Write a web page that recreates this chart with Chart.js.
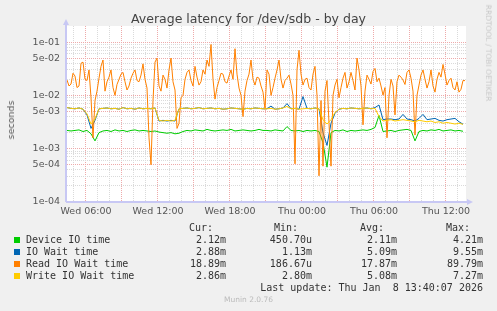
<!DOCTYPE html>
<html>
<head>
<meta charset="utf-8">
<script src="https://cdn.jsdelivr.net/npm/chart.js@4.4.1/dist/chart.umd.min.js"></script>
<style>
  body { margin: 0; background: #f0f0f0; }
  #wrap { position: relative; width: 497px; height: 311px; background: #f0f0f0; overflow: hidden; font-family: "DejaVu Sans", sans-serif; }
  #wrap canvas { position: absolute; left: 0; top: 0; }
  .t { position: absolute; white-space: pre; line-height: 12px; }
  .mono { font-family: "DejaVu Sans Mono", monospace; font-size: 10px; color: #333; }
</style>
</head>
<body>
<div id="wrap">
  <canvas id="chart" width="497" height="311"></canvas>
  <div class="t" style="left:0;width:497px;top:11px;text-align:center;font-size:12.5px;line-height:16px;color:#444">Average latency for /dev/sdb - by day</div>
  <div class="t" style="left:11px;top:120px;transform:translate(-50%,-50%) rotate(-90deg);font-size:9.5px;color:#555">seconds</div>
  <div class="t" style="left:488px;top:53px;transform:translate(-50%,-50%) rotate(90deg);font-size:7.5px;color:#c8c8c8">RRDTOOL / TOBI OETIKER</div>
  <div id="legend"></div>
</div>
<script>
// time axis: hours since Wed 00:00, one sample every 20 min (10 min for the read series)
const startHour = 4.4167;
const endHour = 37.6667;
const coarseStep = 1 / 3;
const fineStep = 1 / 6;

// values in milliseconds
const deviceMs = [
  2.2, 2.15, 2.2, 2.25, 2.1, 2.2, 1.9, 1.4, 2.0, 2.15,
  2.2, 2.1, 2.25, 2.15, 2.2, 2.1, 2.2, 2.25, 2.15, 2.2,
  2.15, 2.1, 2.15, 2.05, 2.0, 1.95, 2.0, 1.9, 1.95, 2.1,
  2.2, 2.15, 2.25, 2.2, 2.15, 2.3, 2.2, 2.15, 2.2, 2.25,
  2.2, 2.3, 2.15, 2.2, 2.25, 2.2, 2.15, 2.2, 2.3, 2.2,
  2.2, 2.15, 2.25, 2.2, 2.15, 2.6, 2.2, 2.15, 2.2, 2.1,
  2.2, 2.15, 2.2, 2.1, 1.3, 0.45, 2.0, 2.2, 2.15, 2.25,
  2.1, 2.2, 2.15, 2.2, 2.25, 2.2, 2.3, 2.5, 4.2, 2.1,
  2.15, 2.2, 2.1, 2.2, 2.25, 2.3, 2.2, 1.4, 2.1, 2.2,
  2.15, 2.25, 2.2, 2.3, 2.15, 2.2, 2.25, 2.15, 2.2, 2.12
];
const ioWaitMs = [
  5.9, 5.7, 5.6, 5.8, 5.5, 4.3, 2.4, 3.4, 5.6, 5.7,
  5.8, 5.6, 5.7, 5.5, 5.9, 5.6, 5.7, 5.5, 5.8, 5.6,
  5.7, 5.6, 5.8, 3.3, 3.4, 3.3, 3.4, 3.3, 5.6, 5.7,
  5.8, 5.6, 5.7, 5.9, 5.6, 5.7, 5.8, 5.6, 5.7, 5.5,
  5.6, 5.8, 5.7, 5.6, 5.5, 5.7, 5.6, 5.8, 5.7, 5.6,
  5.6, 6.3, 5.5, 5.6, 5.8, 7.0, 5.6, 5.7, 5.5, 9.5,
  5.7, 5.6, 5.8, 5.6, 2.0, 1.15, 3.0, 4.6, 5.5, 5.7,
  5.6, 5.8, 5.7, 5.6, 5.7, 5.8, 5.6, 5.9, 6.6, 3.5,
  3.6, 3.6, 3.5, 3.6, 4.4, 3.6, 3.5, 3.3, 3.7, 4.4,
  3.5, 3.6, 3.7, 3.4, 3.3, 3.5, 3.6, 3.7, 3.2, 2.88
];
const readWaitMs = [
  19.4, 15, 16.3, 26, 23, 14, 15, 40, 42, 20,
  19, 30, 9, 1.6, 8, 12, 21, 35, 46, 12,
  18, 22, 30, 14, 10, 16, 20, 25, 27, 18,
  12.6, 15, 21, 26, 30, 19, 18, 24, 39, 20,
  13.7, 1.6, 0.5, 8, 42, 50, 15, 12, 24, 20,
  13.7, 30, 50, 18, 12.6, 2.4, 3, 9, 10, 20,
  27, 30, 19, 15, 35, 22, 15.6, 18, 30, 25,
  46, 35, 90, 20, 8.5, 14, 19, 26, 25, 18,
  17, 23, 30, 20, 75, 25, 13.7, 10, 4, 12,
  19, 25, 46, 20, 15.6, 22, 21, 15, 11.5, 5.5,
  30, 25, 10, 14, 21, 30, 46, 20, 13.7, 19,
  21, 24, 16.3, 10, 0.52, 30, 70, 25, 15.6, 20,
  21, 14, 12.6, 25, 35, 10, 0.31, 8, 0.47, 12,
  19, 3, 0.47, 10, 15.6, 20, 9, 14, 21, 27,
  13.7, 18, 27, 19, 12.6, 50, 30, 15, 2.8, 12,
  24, 20, 16.3, 28, 32, 18, 21, 15, 10.1, 14,
  1.6, 10, 20, 15, 4.3, 18, 24, 22, 19.4, 16,
  27, 30, 21, 12, 1.8, 10, 15.6, 24, 30, 20,
  13.7, 18, 30, 15, 11.5, 20, 27, 22, 38, 25,
  15.6, 19, 21, 14, 12.6, 18, 11.5, 13, 19, 18.9
];
const writeWaitMs = [
  5.9, 5.7, 5.6, 5.8, 5.5, 4.5, 2.9, 3.6, 5.6, 5.7,
  5.8, 5.6, 5.7, 5.5, 5.9, 5.6, 5.7, 5.5, 5.8, 5.6,
  5.7, 5.6, 5.8, 3.4, 3.3, 3.4, 3.3, 3.4, 5.6, 5.7,
  5.8, 5.6, 5.7, 5.9, 5.6, 5.7, 5.8, 5.6, 5.7, 5.5,
  5.6, 5.8, 5.7, 5.6, 5.5, 5.7, 5.6, 5.8, 5.7, 5.6,
  5.6, 5.7, 5.5, 5.6, 5.8, 6.2, 5.6, 5.7, 5.5, 5.6,
  5.7, 5.6, 5.8, 5.6, 3.5, 2.9, 3.5, 4.8, 5.5, 5.7,
  5.6, 5.8, 5.7, 5.6, 5.7, 5.8, 5.6, 5.7, 4.0, 3.3,
  3.4, 3.5, 3.3, 3.4, 3.5, 3.4, 3.3, 3.2, 3.4, 3.3,
  3.2, 3.3, 3.1, 3.2, 3.0, 3.1, 3.0, 2.9, 3.0, 2.86
];

const seriesNames = ['Device IO time', 'IO Wait time', 'Read IO Wait time', 'Write IO Wait time'];
const seriesColors = ['#00cc00', '#0066b3', '#ff8000', '#ffcc00'];
const curVals = ['2.12m', '2.88m', '18.89m', '2.86m'];
const minVals = ['450.70u', '1.13m', '186.67u', '2.80m'];
const avgVals = ['2.11m', '5.09m', '17.87m', '5.08m'];
const maxVals = ['4.21m', '9.55m', '89.79m', '7.27m'];
const lastUpdate = 'Last update: Thu Jan  8 13:40:07 2026';

function toPoints(ms, step) {
  return ms.map((v, i) => ({ x: startHour + i * step, y: v / 1000 }));
}

function mantissa(v) {
  const e = Math.floor(Math.log10(v) + 1e-9);
  return { m: Math.round(v / Math.pow(10, e)), e: e };
}

// white plot area
const plotBg = {
  id: 'plotBg',
  beforeDraw(chart) {
    const { ctx, chartArea: a } = chart;
    ctx.save();
    ctx.fillStyle = '#ffffff';
    ctx.fillRect(a.left, a.top, a.right - a.left, a.bottom - a.top);
    ctx.restore();
  }
};

// rrdtool style axes with little arrows
const axisArrows = {
  id: 'axisArrows',
  afterDraw(chart) {
    const { ctx, chartArea: a } = chart;
    ctx.save();
    ctx.strokeStyle = '#c8c8f4';
    ctx.fillStyle = '#c8c8f4';
    ctx.lineWidth = 2;
    ctx.beginPath();
    ctx.moveTo(a.left - 1, a.bottom);
    ctx.lineTo(a.right + 2, a.bottom);
    ctx.moveTo(a.left - 1, a.bottom);
    ctx.lineTo(a.left - 1, a.top - 2);
    ctx.stroke();
    ctx.beginPath();
    ctx.moveTo(a.right + 7, a.bottom);
    ctx.lineTo(a.right + 1, a.bottom - 3);
    ctx.lineTo(a.right + 1, a.bottom + 3);
    ctx.closePath();
    ctx.fill();
    ctx.beginPath();
    ctx.moveTo(a.left - 1, a.top - 7);
    ctx.lineTo(a.left - 4, a.top - 1);
    ctx.lineTo(a.left + 2, a.top - 1);
    ctx.closePath();
    ctx.fill();
    ctx.restore();
  }
};

const tickFont = { family: 'DejaVu Sans', size: 9.5 };
const minorGrid = '#dadada';
const majorGrid = '#eeaaaa';

new Chart(document.getElementById('chart'), {
  type: 'line',
  data: {
    datasets: [
      { label: seriesNames[0], data: toPoints(deviceMs, coarseStep), borderColor: seriesColors[0], order: 4 },
      { label: seriesNames[1], data: toPoints(ioWaitMs, coarseStep), borderColor: seriesColors[1], order: 3 },
      { label: seriesNames[2], data: toPoints(readWaitMs, fineStep), borderColor: seriesColors[2], order: 2 },
      { label: seriesNames[3], data: toPoints(writeWaitMs, coarseStep), borderColor: seriesColors[3], order: 1 }
    ]
  },
  options: {
    responsive: false,
    animation: false,
    events: [],
    elements: {
      line: { borderWidth: 1, tension: 0 },
      point: { radius: 0 }
    },
    layout: { padding: { left: 0, top: 26, right: 31, bottom: 89 } },
    plugins: { legend: { display: false }, tooltip: { enabled: false } },
    scales: {
      x: {
        type: 'linear',
        min: startHour,
        max: endHour,
        afterFit(scale) { scale.height = 20; },
        afterBuildTicks(scale) {
          const t = [];
          for (let h = 5; h <= 37; h++) t.push({ value: h });
          scale.ticks = t;
        },
        grid: {
          drawTicks: false,
          color: c => (c.tick && c.tick.value % 3 === 0) ? majorGrid : minorGrid
        },
        border: { display: false, dash: [1, 1] },
        ticks: {
          autoSkip: false,
          maxRotation: 0,
          padding: 4,
          color: '#555',
          font: tickFont,
          callback: v => {
            if (v % 6 !== 0) return '';
            const day = v < 24 ? 'Wed' : 'Thu';
            return day + ' ' + String(v % 24).padStart(2, '0') + ':00';
          }
        }
      },
      y: {
        type: 'logarithmic',
        min: 1e-4,
        max: 0.2,
        afterFit(scale) { scale.width = 67; },
        afterBuildTicks(scale) {
          const t = [];
          for (let e = -4; e <= -1; e++) {
            for (let m = 1; m <= 9; m++) {
              const v = m * Math.pow(10, e);
              if (v <= 0.19) t.push({ value: v });
            }
          }
          scale.ticks = t;
        },
        grid: {
          drawTicks: false,
          color: c => {
            if (!c.tick) return minorGrid;
            const mm = mantissa(c.tick.value).m;
            return (mm === 1 || mm === 5) ? majorGrid : minorGrid;
          }
        },
        border: { display: false, dash: [1, 1] },
        ticks: {
          autoSkip: false,
          padding: 7,
          color: '#555',
          font: tickFont,
          callback: v => {
            const p = mantissa(v);
            if (p.m !== 1 && p.m !== 5) return '';
            return p.m + 'e-' + String(-p.e).padStart(2, '0');
          }
        }
      }
    }
  },
  plugins: [plotBg, axisArrows]
});

// legend block under the plot
const legend = document.getElementById('legend');
function addText(text, cls, style) {
  const d = document.createElement('div');
  d.className = 't ' + cls;
  d.textContent = text;
  d.setAttribute('style', style);
  legend.appendChild(d);
}
const headers = ['Cur:', 'Min:', 'Avg:', 'Max:'];
const headerRight = [213, 298, 384, 470];
const valueRight = [226, 312, 397, 483];
const rowY = [240, 252, 264, 276];
headers.forEach((h, i) => addText(h, 'mono', `right:${497 - headerRight[i]}px;top:${228 - 6}px`));
seriesNames.forEach((name, r) => {
  const sq = document.createElement('div');
  sq.setAttribute('style', `position:absolute;left:14px;top:${rowY[r] - 3}px;width:6px;height:6px;background:${seriesColors[r]}`);
  legend.appendChild(sq);
  addText(name, 'mono', `left:26px;top:${rowY[r] - 6}px`);
  [curVals, minVals, avgVals, maxVals].forEach((col, c) => {
    addText(col[r], 'mono', `right:${497 - valueRight[c]}px;top:${rowY[r] - 6}px`);
  });
});
addText(lastUpdate, 'mono', `right:${497 - 483}px;top:${288 - 6}px`);
addText('Munin 2.0.76', '', 'left:0;width:497px;text-align:center;top:294px;font-size:7.5px;color:#bbb');
</script>
</body>
</html>
